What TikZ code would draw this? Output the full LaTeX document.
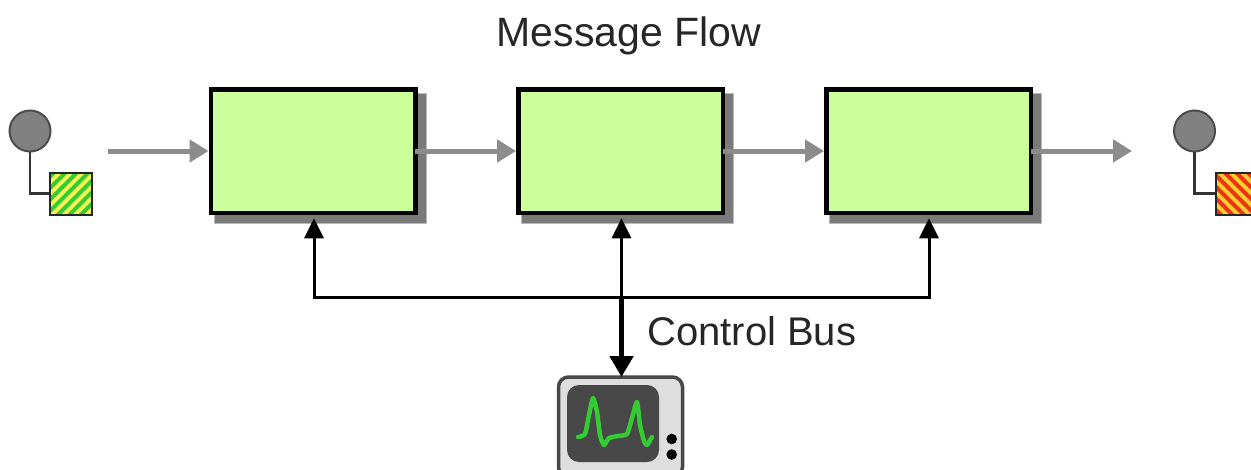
\documentclass[tikz,border=0pt]{standalone}
\usepackage{fontspec}
\setmainfont{Liberation Sans}
\usetikzlibrary{arrows.meta,calc}
\definecolor{boxgreen}{HTML}{CCFF99}
\definecolor{flowgray}{HTML}{8C8C8C}
\definecolor{epgray}{HTML}{808080}
\definecolor{tvgray}{HTML}{DEDEDE}
\definecolor{tvscreen}{HTML}{484848}
\definecolor{trace}{HTML}{33CC33}
\definecolor{stripegreen}{HTML}{33CC33}
\definecolor{stripeyellow}{HTML}{F4F455}
\definecolor{stripered}{HTML}{EE3311}
\definecolor{stripeorange}{HTML}{FFCC33}
\tikzset{
  x=1pt,y=-1pt,
  filterbox/.style={draw=black,line width=4.5pt,fill=boxgreen,minimum width=204.5pt,minimum height=123.5pt,inner sep=0pt,outer sep=0pt},
  flowline/.style={draw=flowgray,line width=5pt,-{Triangle[length=19pt,width=22pt]}},
  busline/.style={draw=black,line width=3pt},
  busup/.style={busline,-{Triangle[length=20pt,width=19pt]}},
  mainline/.style={draw=black,line width=5pt,-{Triangle[length=21pt,width=23pt]}},
  endcircle/.style={circle,draw=black!70,line width=2pt,fill=epgray,minimum size=41pt,inner sep=0pt,outer sep=0pt},
  endsquare/.style={rectangle,minimum size=42pt,inner sep=0pt,outer sep=0pt},
  endline/.style={draw=black!80,line width=2.6pt},
  label/.style={font=\fontsize{41}{45}\selectfont,text=black!85,inner sep=0pt}
}
\begin{document}
\begin{tikzpicture}
\useasboundingbox (0,0) rectangle (1251,469);
% shadows
\foreach \cx in {313,620.5,928.5}{
  \fill[black!28] (\cx-99.5,93) rectangle (\cx+113.5,223.5);
  \fill[black!52] (\cx-98.5,94) rectangle (\cx+112.5,222.5);
}
\node[filterbox] (f1) at (313,151) {};
\node[filterbox] (f2) at (620.5,151) {};
\node[filterbox] (f3) at (928.5,151) {};
\coordinate (in) at (108,151);
\coordinate (out) at (1132,151);
\draw[flowline,shorten >=2.2pt] (in) -- (f1.west);
\draw[flowline,shorten >=2.2pt] (f1.east) -- (f2.west);
\draw[flowline,shorten >=2.2pt] (f2.east) -- (f3.west);
\draw[flowline] (f3.east) -- (out);
% start endpoint
\node[endcircle] (c1) at (30,131) {};
\node[endsquare] (s1) at (70.5,193.5) {};
\draw[endline] (c1.south) |- (s1.west);
\begin{scope}
  \clip (s1.south west) rectangle (s1.north east);
  \fill[stripegreen] (s1.south west) rectangle (s1.north east);
  \foreach \k in {-4,...,9}{
    \fill[stripeyellow] (49.5+\k*11.5,214.5) -- ++(5.6,0) -- ++(42,-42) -- ++(-5.6,0) -- cycle;
  }
\end{scope}
\draw[black!85,line width=2pt] (s1.south west) rectangle (s1.north east);
% end endpoint
\node[endcircle] (c2) at (1194.5,131) {};
\node[endsquare] (s2) at (1237,193.5) {};
\draw[endline] (c2.south) |- (s2.west);
\begin{scope}
  \clip (s2.south west) rectangle (s2.north east);
  \fill[stripered] (s2.south west) rectangle (s2.north east);
  \foreach \k in {-4,...,9}{
    \fill[stripeorange] (1216+\k*11.5,172.5) -- ++(5.6,0) -- ++(42,42) -- ++(-5.6,0) -- cycle;
  }
\end{scope}
\draw[black!85,line width=2pt] (s2.south west) rectangle (s2.north east);
% monitor
\node[draw=black!72,line width=3.5pt,fill=tvgray,rounded corners=10pt,minimum width=124pt,minimum height=100pt,inner sep=0pt,outer sep=0pt,anchor=north] (tv) at (620.5,377) {};
\fill[tvscreen,rounded corners=12pt] (567,385) rectangle (659,462);
\draw[trace,line width=4.5pt,line join=round,line cap=round] plot[smooth,tension=0.35] coordinates {(578,437) (585,434) (589,415) (593,398) (597,412) (600,435) (604,445) (609,438) (618,436) (627,434) (632,418) (637,402) (640,425) (644,441) (647,445) (652,437)};
\fill[black] (671.7,439) circle (5.3);
\fill[black] (671.7,454.5) circle (5.3);
% control bus
\coordinate (junction) at (621.5,297);
\draw[busup] (junction) -| ($(f1.south)+(1,5.5)$);
\draw[busup] (junction) -| ($(f3.south)+(0.5,5.5)$);
\draw[busup] (junction) -- ($(f2.south)+(1,5.5)$);
\draw[mainline] (junction) -- (tv.north -| junction);
\node[label,anchor=base west,font=\fontsize{40}{44}\selectfont] (cb) at (647,345) {Control Bus};
\node[label,anchor=base] (mf) at (629,46) {Message Flow};
\end{tikzpicture}
\end{document}
